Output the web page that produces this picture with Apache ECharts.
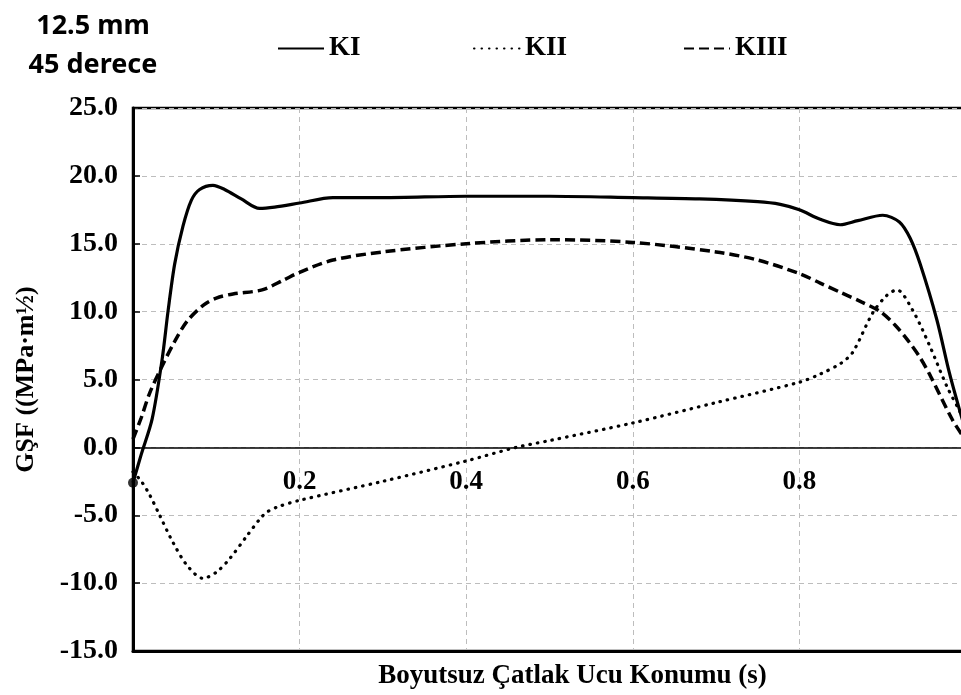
<!DOCTYPE html>
<html>
<head>
<meta charset="utf-8">
<script src="https://cdn.jsdelivr.net/npm/echarts@6/dist/echarts.min.js"></script>
<style>
  html, body { margin: 0; padding: 0; background: #fff; }
  #chart { width: 961px; height: 695px; }
</style>
</head>
<body>
<div id="chart"></div>
<script>
// s values (dimensionless crack front position) and SIF values
var sKI = [0, 0.01, 0.023, 0.035, 0.042, 0.05, 0.06, 0.07, 0.08, 0.096, 0.11, 0.13, 0.152, 0.17, 0.2, 0.24, 0.3, 0.4, 0.5, 0.6, 0.68, 0.75, 0.777, 0.8, 0.825, 0.849, 0.87, 0.9, 0.92, 0.933, 0.945, 0.965, 0.98, 0.993, 1.0];
var vKI = [-2.6, -0.5, 2.1, 6.5, 10.0, 13.5, 16.3, 18.2, 19.0, 19.3, 19.0, 18.3, 17.6, 17.7, 18.0, 18.4, 18.4, 18.5, 18.5, 18.4, 18.3, 18.1, 17.9, 17.5, 16.8, 16.4, 16.7, 17.1, 16.6, 15.4, 13.5, 9.4, 5.5, 2.6, 1.2];

var sKII = [0, 0.01, 0.02, 0.032, 0.048, 0.065, 0.084, 0.1, 0.116, 0.137, 0.152, 0.16, 0.173, 0.2, 0.3, 0.4, 0.46, 0.5, 0.6, 0.7, 0.8, 0.825, 0.85, 0.864, 0.888, 0.905, 0.917, 0.936, 0.957, 0.977, 0.993, 1.0];
var vKII = [-1.8, -2.5, -3.5, -5.0, -7.0, -8.7, -9.65, -9.2, -8.2, -6.5, -5.3, -4.8, -4.4, -3.9, -2.5, -1.0, 0.0, 0.5, 1.8, 3.3, 4.8, 5.4, 6.2, 7.0, 9.9, 11.2, 11.6, 10.1, 7.4, 4.5, 2.6, 1.6];

var sKIII = [0, 0.01, 0.02, 0.035, 0.05, 0.065, 0.085, 0.1, 0.12, 0.155, 0.18, 0.2, 0.24, 0.3, 0.4, 0.5, 0.6, 0.7, 0.75, 0.8, 0.825, 0.85, 0.875, 0.897, 0.915, 0.93, 0.945, 0.957, 0.984, 1.0];
var vKIII = [0.6, 2.2, 4.0, 6.0, 7.8, 9.3, 10.5, 11.0, 11.3, 11.6, 12.3, 12.9, 13.8, 14.4, 15.0, 15.3, 15.1, 14.4, 13.8, 12.8, 12.1, 11.4, 10.7, 10.0, 9.0, 7.9, 6.6, 5.3, 2.0, 0.5];

var startPoint = [[0, -2.6]];
var seriesNames = ['KI', 'KII', 'KIII'];

function pairs(xs, ys) {
    return xs.map(function (x, i) { return [x, ys[i]]; });
}

var serif = '"Liberation Serif", "Times New Roman", serif';
var gridTop = 108, gridBottom = 44, chartH = 695;
var yMin = -15, yMax = 25;

var chart = echarts.init(document.getElementById('chart'));

function lineSeries(name, data, lineStyle) {
    return {
        name: name,
        type: 'line',
        data: data,
        smooth: 0.3,
        symbol: 'none',
        lineStyle: lineStyle,
        itemStyle: { color: '#000' },
        z: 3
    };
}

function legendItem(name, left) {
    return {
        data: [name],
        left: left,
        top: 30,
        itemWidth: 46,
        itemHeight: 14,
        itemGap: 0,
        itemStyle: { color: 'rgba(0,0,0,0)', borderWidth: 0 },
        textStyle: { fontFamily: serif, fontWeight: 'bold', fontSize: 27, color: '#000' }
    };
}

// the labelled s axis sits on the zero line: shift it up from the bottom of the grid
var plotH = chartH - gridTop - gridBottom;
var zeroOffset = -plotH * (0 - yMin) / (yMax - yMin);

var option = {
    animation: false,
    backgroundColor: '#fff',
    title: {
        text: '12.5 mm\n45 derece',
        left: 88,
        top: 2,
        textAlign: 'center',
        textStyle: {
            fontFamily: '"Noto Sans", "Open Sans", sans-serif',
            fontWeight: 'bold',
            fontSize: 27,
            lineHeight: 39,
            color: '#000'
        }
    },
    legend: [legendItem('KI', 272), legendItem('KII', 468), legendItem('KIII', 678)],
    grid: {
        left: 133,
        top: gridTop,
        right: -5,
        bottom: gridBottom,
        outerBoundsMode: 'none',
        containLabel: false,
        show: true,
        borderColor: '#000',
        borderWidth: 2.5
    },
    xAxis: [{
        type: 'value',
        min: 0,
        max: 1,
        interval: 0.2,
        position: 'bottom',
        name: 'Boyutsuz Çatlak Ucu Konumu (s)',
        nameLocation: 'middle',
        nameGap: 12,
        nameTextStyle: {
            fontFamily: serif,
            fontWeight: 'bold',
            fontSize: 27,
            color: '#000',
            padding: [0, 0, 0, 46]
        },
        axisLine: { onZero: false, lineStyle: { color: '#000', width: 3 } },
        axisTick: { show: false },
        axisLabel: { show: false },
        splitLine: { show: true, lineStyle: { color: '#bdbdbd', type: [5, 4], width: 1 } }
    }, {
        type: 'value',
        min: 0,
        max: 1,
        interval: 0.2,
        position: 'bottom',
        offset: zeroOffset,
        axisLine: { onZero: false, lineStyle: { color: '#000', width: 1.5 } },
        axisTick: { show: false },
        axisLabel: {
            showMinLabel: false,
            margin: 21,
            fontFamily: serif,
            fontWeight: 'bold',
            fontSize: 27,
            color: '#000',
            formatter: function (v) { return v === 1 ? '1' : v.toFixed(1); }
        },
        splitLine: { show: false }
    }],
    yAxis: {
        type: 'value',
        min: yMin,
        max: yMax,
        interval: 5,
        name: 'GŞF ((MPa·m½)',
        nameLocation: 'middle',
        nameGap: 74,
        nameTextStyle: {
            fontFamily: serif,
            fontWeight: 'bold',
            fontSize: 26,
            color: '#000',
            padding: [0, 0, 20, 0]
        },
        axisLine: { show: true, onZero: false, lineStyle: { color: '#000', width: 3 } },
        axisTick: { show: true, inside: true, length: 7, lineStyle: { color: '#000', width: 1.5 } },
        axisLabel: {
            margin: 15,
            fontFamily: serif,
            fontWeight: 'bold',
            fontSize: 28,
            color: '#000',
            formatter: function (v) { return v.toFixed(1); }
        },
        splitLine: { show: true, lineStyle: { color: '#bdbdbd', type: [5, 4], width: 1 } }
    },
    series: [
        lineSeries(seriesNames[0], pairs(sKI, vKI), { color: '#000', width: 3.2 }),
        lineSeries(seriesNames[1], pairs(sKII, vKII), { color: '#000', width: 3.2, type: [0.5, 7], cap: 'round' }),
        lineSeries(seriesNames[2], pairs(sKIII, vKIII), { color: '#000', width: 3.5, type: [10, 5] }),
        {
            name: 'start',
            type: 'scatter',
            data: startPoint,
            symbol: 'circle',
            symbolSize: 10,
            itemStyle: { color: '#000' },
            z: 4
        }
    ]
};

chart.setOption(option);
</script>
</body>
</html>
